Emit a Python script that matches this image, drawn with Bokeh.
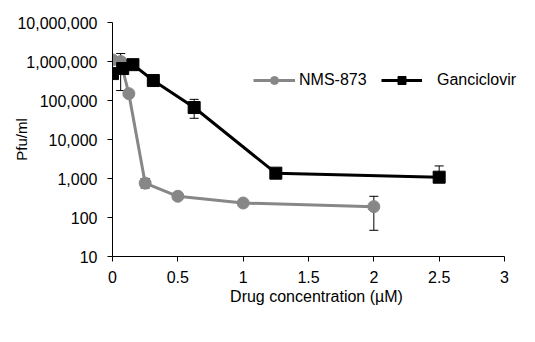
from bokeh.plotting import figure
from bokeh.models import (ColumnDataSource, Whisker, TeeHead, Legend, LegendItem,
                          FixedTicker, NumeralTickFormatter, Range1d)
from bokeh.embed import file_html
from bokeh.resources import INLINE

# ---- data ----
nms_x = [0, 0.0625, 0.125, 0.25, 0.5, 1, 2]
nms_y = [1100000, 1000000, 150000, 760, 350, 235, 190]
nms_err_x = [0.0625, 0.25, 2]
nms_lo = [180000, 570, 47]
nms_hi = [1600000, 1000, 350]

gan_x = [0, 0.078125, 0.15625, 0.3125, 0.625, 1.25, 2.5]
gan_y = [490000, 660000, 830000, 325000, 66000, 1370, 1080]
gan_err_x = [0.625, 2.5]
gan_lo = [35000, 1080]
gan_hi = [107000, 2100]

y_ticks = [10, 100, 1000, 10000, 100000, 1000000, 10000000]
x_ticks = [0, 0.5, 1, 1.5, 2, 2.5, 3]
x_axis_end = 3

FONT = "Liberation Sans"
GRAY = "#878787"

# frame: 0 -> px 112, 3 -> px 504 ; frame extended to 520 so the legend text fits
FRAME_L, FRAME_R_AXIS, FRAME_R = 112, 504, 520
x_end = x_axis_end * (FRAME_R - FRAME_L) / (FRAME_R_AXIS - FRAME_L)

p = figure(width=522, height=334, y_axis_type="log", output_backend="svg",
           toolbar_location=None, x_range=Range1d(0, x_end), y_range=Range1d(10, 1e7),
           min_border_left=FRAME_L, min_border_right=522 - FRAME_R, min_border_top=22,
           min_border_bottom=78)
p.outline_line_color = None
p.xgrid.grid_line_color = None
p.ygrid.grid_line_color = None

for ax in (p.xaxis[0], p.yaxis[0]):
    ax.axis_line_color = "black"
    ax.major_tick_line_color = "black"
    ax.minor_tick_line_color = None
    ax.major_tick_out = 5
    ax.major_tick_in = 0
    ax.major_label_text_font = FONT
    ax.major_label_text_font_size = "16px"
    ax.major_label_text_color = "black"
    ax.axis_label_text_font = FONT
    ax.axis_label_text_font_size = "16px"
    ax.axis_label_text_font_style = "normal"
    ax.axis_label_text_color = "black"

p.xaxis.bounds = (0, x_axis_end)
p.xaxis.ticker = FixedTicker(ticks=x_ticks)
p.yaxis.ticker = FixedTicker(ticks=y_ticks)
p.yaxis.formatter = NumeralTickFormatter(format="0,0")
p.xaxis.major_label_standoff = 9
p.yaxis.major_label_standoff = 10
p.xaxis.axis_label = "Drug concentration (\u00b5M)"
p.xaxis.axis_label_standoff = 2
p.yaxis.axis_label = "Pfu/ml"
p.yaxis.axis_label_text_font_size = "15px"
p.yaxis.axis_label_standoff = -16

# error bars
nms_err = ColumnDataSource(dict(x=nms_err_x, lo=nms_lo, hi=nms_hi))
gan_err = ColumnDataSource(dict(x=gan_err_x, lo=gan_lo, hi=gan_hi))
for src in (nms_err, gan_err):
    w = Whisker(source=src, base="x", lower="lo", upper="hi", dimension="height",
                line_color="black", line_width=1,
                upper_head=TeeHead(size=9, line_color="black", line_width=1),
                lower_head=TeeHead(size=9, line_color="black", line_width=1))
    p.add_layout(w)

nms_src = ColumnDataSource(dict(x=nms_x, y=nms_y))
gan_src = ColumnDataSource(dict(x=gan_x, y=gan_y))

nl = p.line("x", "y", source=nms_src, line_color=GRAY, line_width=3)
ns = p.scatter("x", "y", source=nms_src, marker="circle", size=12,
               fill_color=GRAY, line_color=GRAY)
gl = p.line("x", "y", source=gan_src, line_color="black", line_width=3)
gs = p.scatter("x", "y", source=gan_src, marker="square", size=12,
               fill_color="black", line_color="black")

def mk_legend(label, rends, loc, gw, standoff):
    lg = Legend(items=[LegendItem(label=label, renderers=rends)], location=loc,
                orientation="horizontal", border_line_color=None,
                background_fill_alpha=0, padding=0, margin=0,
                glyph_width=gw, glyph_height=20, label_height=20,
                label_standoff=standoff, label_text_font=FONT,
                label_text_font_size="16px", label_text_color="black")
    p.add_layout(lg, "center")

mk_legend("NMS-873", [nl, ns], (141, 166), 42, 4)
mk_legend("Ganciclovir", [gl, gs], (269, 166), 41, 15)

open("out.html", "w").write(file_html(p, INLINE))
